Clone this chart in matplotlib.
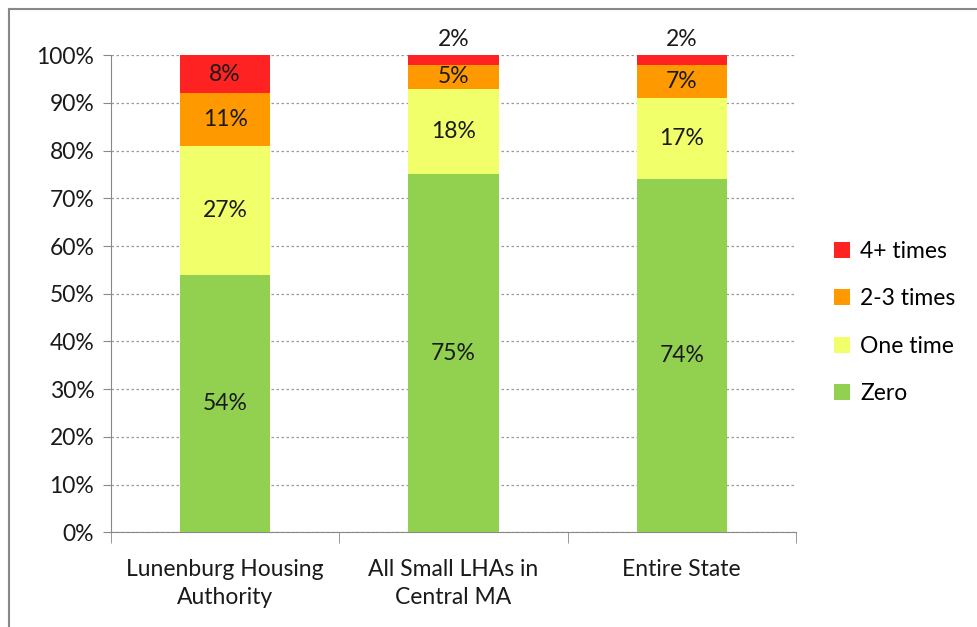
import matplotlib.pyplot as plt
import numpy as np
from matplotlib.lines import Line2D

# datos del grafico (porcentajes)
categorias = ["Lunenburg Housing\nAuthority", "All Small LHAs in\nCentral MA", "Entire State"]
series = ["Zero", "One time", "2-3 times", "4+ times"]
zero = [54, 75, 74]
una_vez = [27, 18, 17]
dos_tres = [11, 5, 7]
cuatro_mas = [8, 2, 2]
colores = ["#92D050", "#F0FF6A", "#FF9900", "#FF2222"]

plt.rcParams["font.family"] = ["Lato", "DejaVu Sans"]
FS = 16.5

fig = plt.figure(figsize=(9.77, 6.27), dpi=100)
ax = fig.add_axes([0.1136, 0.151, 0.701, 0.761])

x = np.arange(len(categorias))
valores = [zero, una_vez, dos_tres, cuatro_mas]
base = np.zeros(len(categorias))
barras = []
for vals, nombre, color in zip(valores, series, colores):
    b = ax.bar(x, vals, width=0.395, bottom=base, color=color, label=nombre, zorder=3)
    barras.append(b)
    for xi, v, b0 in zip(x, vals, base):
        if v >= 5:
            ax.text(xi, b0 + v / 2, f"{v}%", ha="center", va="center", fontsize=FS, color="#1a1a1a", zorder=4)
        else:
            ax.text(xi, 100 + 1.0, f"{v}%", ha="center", va="bottom", fontsize=FS, color="#1a1a1a", zorder=4)
    base = base + np.array(vals)

ax.set_xlim(-0.5, 2.5)
ax.set_ylim(0, 100)
ax.set_yticks(range(0, 101, 10))
ax.set_yticklabels([f"{v}%" for v in range(0, 101, 10)], fontsize=FS, color="#1a1a1a")
ax.set_xticks(x)
ax.set_xticklabels(categorias, fontsize=FS, color="#1a1a1a", linespacing=1.45)
ax.tick_params(axis="x", length=0, pad=19)
ax.tick_params(axis="y", length=6, color="#888888", direction="out", pad=6)

# marcas entre categorias en el eje x
ax.set_xticks([-0.5, 0.5, 1.5, 2.5], minor=True)
ax.tick_params(axis="x", which="minor", length=8, color="#888888", direction="out")

ax.grid(axis="y", linestyle=(0, (2, 2)), color="#999999", linewidth=0.9, zorder=0)
for lado in ["top", "right"]:
    ax.spines[lado].set_visible(False)
ax.spines["left"].set_color("#888888")
ax.spines["bottom"].set_color("#888888")

# leyenda en orden inverso
handles = barras[::-1]
ax.legend(handles, series[::-1], loc="center left", bbox_to_anchor=(1.025, 0.44), frameon=False,
          fontsize=FS, handlelength=0.7, handleheight=0.7, handletextpad=0.45, labelspacing=1.15)

# marco exterior (solo borde superior e izquierdo)
fig.add_artist(Line2D([0.0095, 0.0095], [0, 0.986], color="#888888", linewidth=1.5, transform=fig.transFigure))
fig.add_artist(Line2D([0.0095, 1], [0.986, 0.986], color="#888888", linewidth=1.5, transform=fig.transFigure))

plt.savefig("out.png", dpi=100)
